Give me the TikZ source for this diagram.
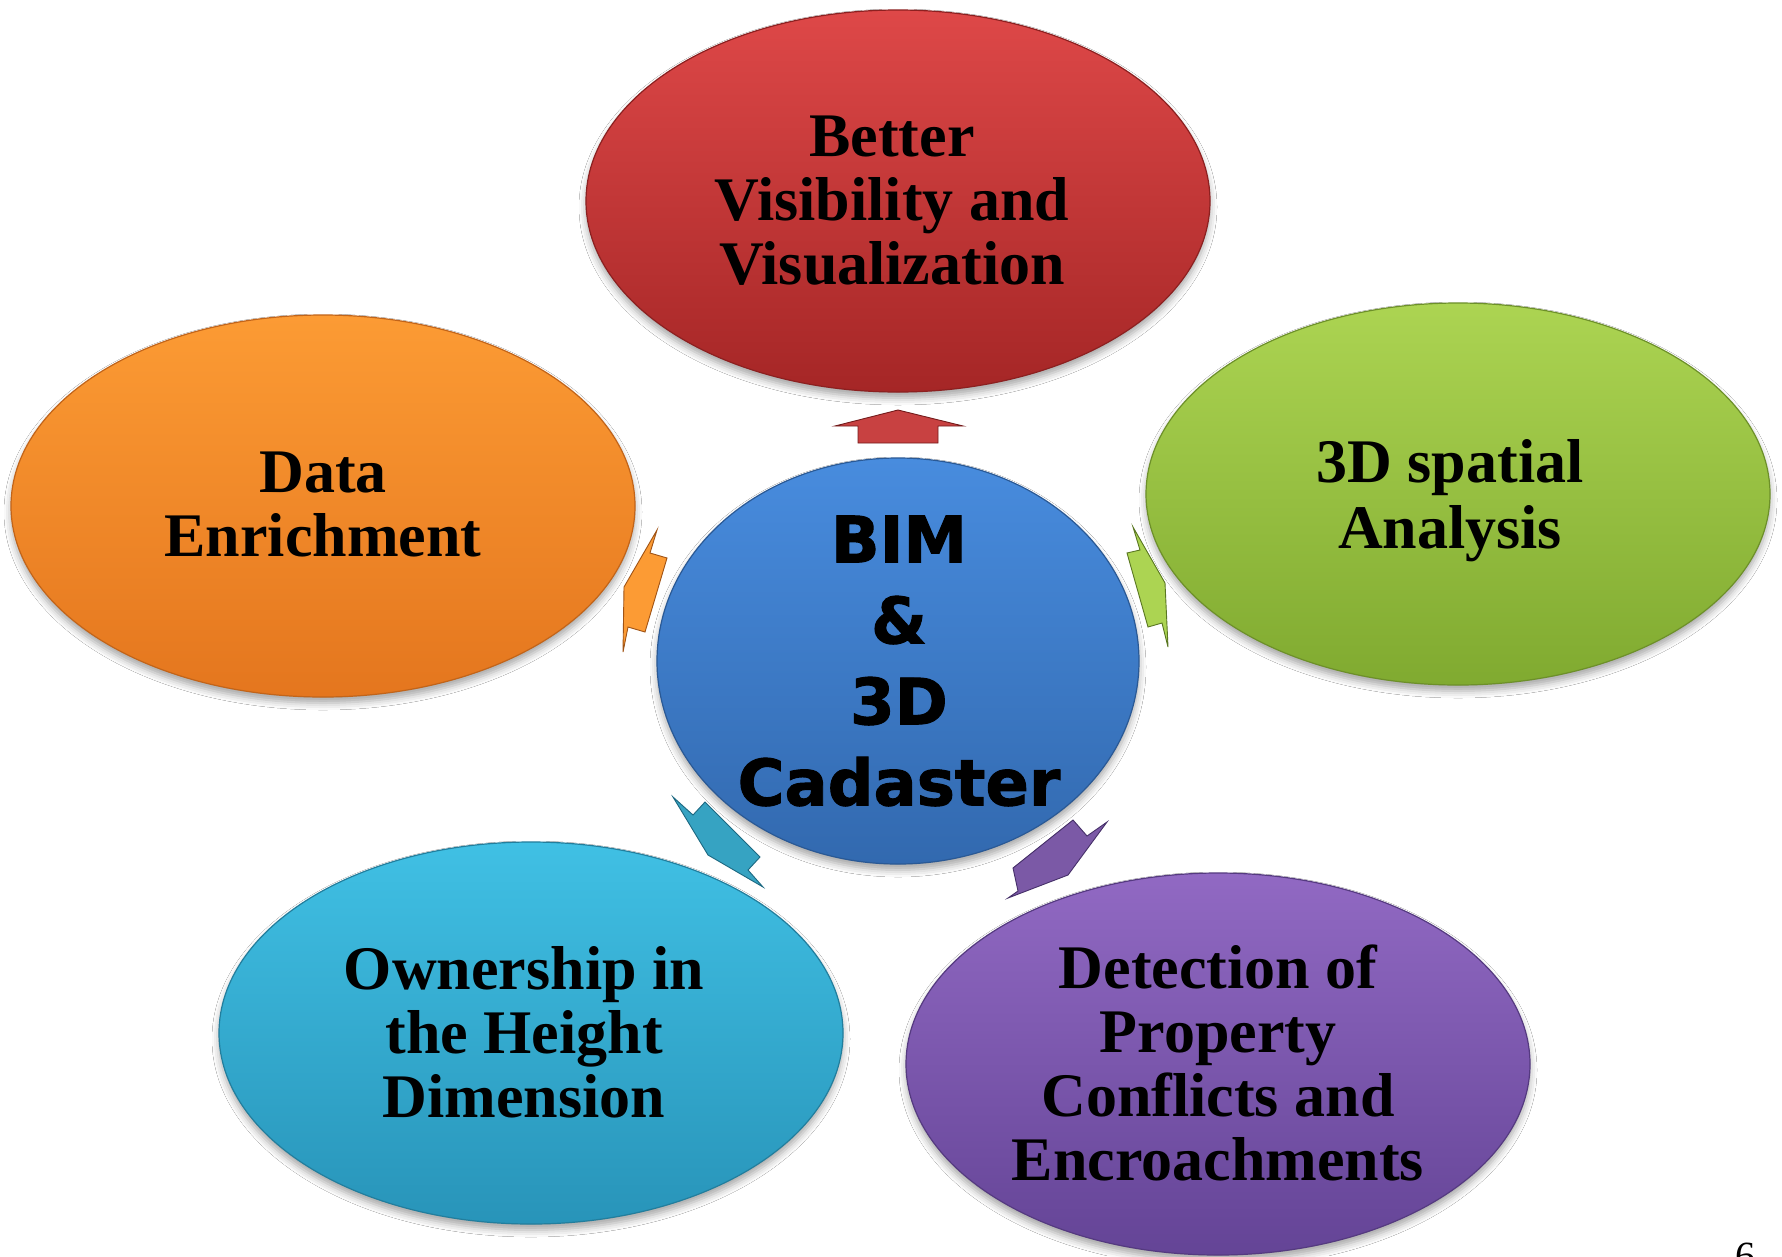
\documentclass[tikz,border=0pt]{standalone}
\usepackage{fontspec}
\setmainfont{Liberation Serif}
\newfontface\blkfont[FakeBold=1.5]{DejaVu Sans Bold}
\usetikzlibrary{shapes.geometric,shadows.blur}
\definecolor{redT}{RGB}{222,72,72}
\definecolor{redB}{RGB}{165,38,38}
\definecolor{orT}{RGB}{252,155,52}
\definecolor{orB}{RGB}{228,118,30}
\definecolor{grT}{RGB}{172,212,82}
\definecolor{grB}{RGB}{128,170,48}
\definecolor{blT}{RGB}{72,140,222}
\definecolor{blB}{RGB}{50,105,175}
\definecolor{cyT}{RGB}{64,192,228}
\definecolor{cyB}{RGB}{40,148,185}
\definecolor{puT}{RGB}{145,105,195}
\definecolor{puB}{RGB}{100,68,150}
\begin{document}
\begin{tikzpicture}[x=1pt,y=-1pt,
  blob/.style={ellipse, minimum width=624pt, minimum height=382pt, inner sep=0pt,
    line width=1.2pt,
    blur shadow={shadow xshift=0pt, shadow yshift=-6pt, shadow blur radius=7pt, shadow opacity=35}},
  lbl/.style={font=\fontsize{62}{64}\selectfont\bfseries, align=center, text=black, inner sep=0pt},
  ctr/.style={font=\fontsize{64}{81}\selectfont\blkfont, align=center, text=black, inner sep=0pt},
  arr/.style={line width=0.9pt, line join=miter}]
\useasboundingbox[fill=white] (0,0) rectangle (1782,1256);

% ellipses
\node[blob, top color=redT, bottom color=redB, draw=redB!85!black] (eRed) at (898,201) {};
\node[blob, top color=orT, bottom color=orB, draw=orB!85!black] (eOr) at (323,506) {};
\node[blob, top color=grT, bottom color=grB, draw=grB!85!black] (eGr) at (1458,494) {};
\node[blob, top color=cyT, bottom color=cyB, draw=cyB!85!black] (eCy) at (531,1033) {};
\node[blob, top color=puT, bottom color=puB, draw=puB!85!black] (ePu) at (1218,1064) {};
\node[blob, minimum width=482pt, minimum height=406pt, top color=blT, bottom color=blB, draw=blB!85!black] (eBl) at (898,661) {};

% arrows
\filldraw[arr, fill=redT!90!black, draw=redB!70!black] (898,410) -- (963,426) -- (938,426) -- (938,443) -- (858,443) -- (858,426) -- (835,426) -- cycle;
\filldraw[arr, fill=orT, draw=orB!70!black] (657,530) -- (650,553) -- (667,558) -- (645,632) -- (628,627) -- (623,652) -- (624,587) -- cycle;
\filldraw[arr, fill=grT, draw=grB!70!black] (1133,527) -- (1140,550) -- (1127,553) -- (1148,627) -- (1162,623) -- (1168,647) -- (1165,583) -- cycle;
\filldraw[arr, fill=cyT!85!black, draw=cyB!70!black] (673,797) -- (693,815) -- (705,802) -- (760,857) -- (748,870) -- (763,887) -- (708,855) -- cycle;
\filldraw[arr, fill=puT!85!black, draw=puB!70!black] (1107,822) -- (1087,836) -- (1073,820) -- (1013,868) -- (1018,891) -- (1008,898) -- (1068,875) -- cycle;

% texts
\node[lbl] (tRed) at (892,201) {Better\\Visibility and\\Visualization};
\node[lbl] (tOr) at (323,504) {Data\\Enrichment};
\node[lbl, font=\fontsize{62}{66}\selectfont\bfseries] (tGr) at (1450,501) {3D spatial\\Analysis};
\node[lbl] (tCy) at (524,1032) {Ownership in\\the Height\\Dimension};
\node[lbl] (tPu) at (1218,1063) {Detection of\\Property\\Conflicts and\\Encroachments};
\node[ctr] (tBl) at (899,661) {BIM\\\&\\3D\\Cadaster};
\node[font=\fontsize{40}{40}\selectfont, anchor=north, inner sep=0pt] (pg) at (1745,1243) {6};
\end{tikzpicture}
\end{document}
